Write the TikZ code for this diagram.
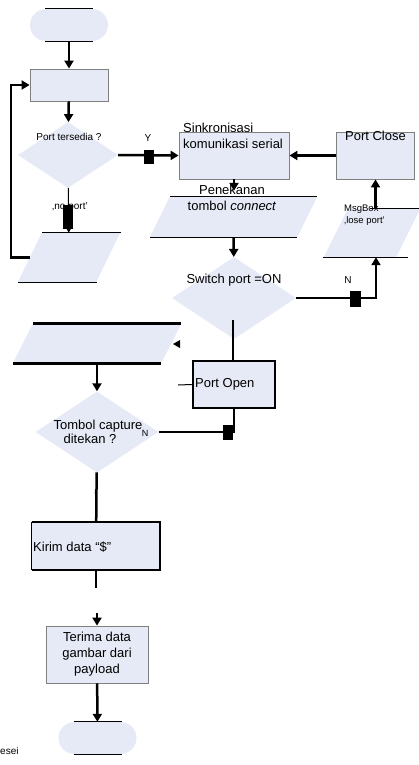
\documentclass[tikz,border=0pt]{standalone}
\usepackage{fontspec}
\setmainfont{Liberation Sans}
\usepackage{xcolor}
\usetikzlibrary{arrows.meta,positioning,calc,shapes.geometric}
\definecolor{lav}{HTML}{E6EAF6}
\tikzset{
  term/.style={rectangle, rounded corners=16pt, fill=lav, minimum width=78pt, minimum height=32pt, inner sep=0pt},
  proc/.style={rectangle, draw=gray, fill=lav, line width=0.8pt, inner sep=0pt},
  dia/.style={diamond, fill=lav, inner sep=0pt},
  para/.style={rectangle, inner sep=0pt},
  txt/.style={font=\fontsize{13}{16}\selectfont, inner sep=0pt},
  sml/.style={font=\fontsize{10}{12}\selectfont, inner sep=0pt},
  tny/.style={font=\fontsize{5}{6}\selectfont, text=gray!60, inner sep=0pt},
  fl/.style={line width=2.5pt, -{Triangle[length=8pt,width=9pt]}},
  ln/.style={line width=2.5pt},
  thinln/.style={line width=1pt},
  blok/.style={fill=black, minimum width=10pt, minimum height=14pt, inner sep=0pt},
}
% parallelogram fill on a para node: node, slant
\newcommand{\jajar}[2]{%
  \fill[lav] ($(#1.south west)+(-#2/2,0)$) -- ($(#1.south east)+(-#2/2,0)$)
    -- ($(#1.north east)+(#2/2,0)$) -- ($(#1.north west)+(#2/2,0)$) -- cycle;}
\begin{document}
\begin{tikzpicture}[x=1pt, y=-1pt]
\useasboundingbox (0,0) rectangle (419,765);
% shapes
\node[term] (start) at (69,25) {};
\node[proc, minimum width=78pt, minimum height=32pt] (inp) at (69,85) {};
\node[dia, minimum width=100pt, minimum height=66pt] (cekport) at (68,155) {};
\node[proc, minimum width=110pt, minimum height=47pt] (sinkron) at (234,155.5) {};
\node[proc, minimum width=78pt, minimum height=47pt] (close) at (375.5,155.5) {};
\node[para, minimum width=147pt, minimum height=40pt] (connect) at (233.5,217) {};
\node[para, minimum width=78pt, minimum height=49pt] (noport) at (69,257.5) {};
\node[para, minimum width=72pt, minimum height=48pt] (msgbox) at (372,233) {};
\node[dia, minimum width=124pt, minimum height=82pt] (switch) at (234,298) {};
\node[para, minimum width=148pt, minimum height=39pt] (tampil) at (97,343.5) {};
\node[proc, draw=black, line width=2.5pt, minimum width=82pt, minimum height=47pt] (open) at (234,384.5) {};
\node[dia, minimum width=123pt, minimum height=81pt] (capture) at (97,432) {};
\node[rectangle, fill=lav, minimum width=128pt, minimum height=48pt] (kirim) at (96,546) {};
\node[proc, minimum width=102pt, minimum height=57pt, txt, align=center] (terima) at (97,654.5) {Terima data\\gambar dari\\payload};
\node[term] (stop) at (97.5,738) {};
\jajar{connect}{20}
\jajar{noport}{24}
\jajar{msgbox}{24}
\jajar{tampil}{20}
% terminal and data edges
\draw[thinln] ($(start.north)+(-24,0)$) -- ($(start.north)+(24,0)$);
\draw[thinln] ($(start.south)+(-24,0)$) -- ($(start.south)+(24,0)$);
\draw[thinln] ($(stop.north)+(-24,0)$) -- ($(stop.north)+(24,0)$);
\draw[thinln] ($(stop.south)+(-24,0)$) -- ($(stop.south)+(24,0)$);
\draw[thinln] ($(noport.north west)+(12,0)$) -- ($(noport.north east)+(13,0)$);
\draw[thinln] ($(noport.south west)+(-12,0)$) -- ($(noport.south east)+(-11,0)$);
\draw[thinln] ($(connect.north west)+(10,0)$) -- ($(connect.north east)+(10,0)$);
\draw[thinln] ($(connect.south west)+(-10,0)$) -- ($(connect.south east)+(-10,0)$);
\draw[thinln] ($(msgbox.north west)+(34,0)$) -- ($(msgbox.north east)+(13,0)$);
\draw[thinln] ($(msgbox.south west)+(-13,0)$) -- ($(msgbox.south east)+(0,0)$);
\draw[line width=3pt] ($(tampil.north west)+(10,0)$) -- ($(tampil.north east)+(10,0)$);
\draw[line width=3pt] ($(tampil.south west)+(-10,0)$) -- ($(tampil.south east)+(-10,0)$);
\draw[line width=2.5pt] (kirim.north west) -- (kirim.north east) -- (kirim.south east) -- (kirim.south west);
\draw[thinln] (kirim.north west) -- (kirim.south west);
% texts
\node[sml] (tcek) at (69,137) {Port tersedia ?};
\node[txt, anchor=west, align=left] (tsink) at (183,136) {Sinkronisasi\\komunikasi serial};
\node[txt] (tclose) at (375.5,136) {Port Close};
\node[txt, align=center] (tconn) at (232,198) {Penekanan\\tombol \textit{connect}};
\node[sml, anchor=west, align=left, font=\fontsize{9.5}{12}\selectfont] (tmsg) at (344,215) {MsgBox\\‚lose port’};
\node[txt] (tswitch) at (234,280) {Switch port =ON};
\node[sml] (tnoport) at (70,207) {‚no port’};
\node[txt, anchor=west] (topen) at (195,384) {Port Open};
\node[txt] (tcap1) at (98,426) {Tombol capture};
\node[txt] (tcap2) at (90,439) {ditekan ?};
\node[txt, anchor=west] (tkirim) at (33,547) {Kirim data “\$”};
\node[sml, anchor=west] (tesei) at (0,751) {esei};
% yes / no labels
\node[sml] (ly1) at (148,138) {Y};
\node[sml] (ln1) at (348,280) {N};
\node[sml, font=\fontsize{9}{10}\selectfont] (ln2) at (145,433) {N};
\node[tny] (ly2) at (233,337) {Y};
\node[tny] (ly3) at (95,493) {Y};
% main flow
\draw[fl] (start) -- (inp);
\draw[fl] (inp) -- (cekport);
\draw[fl] (cekport.east) -- (sinkron.west);
\node[blok] (bY) at (149,156.5) {};
\draw[fl] (close) -- (sinkron);
\draw[fl, shorten >=6pt] (sinkron.south) -- (sinkron.south |- connect.north);
\draw[fl] (connect) -- (switch);
\draw[fl] (switch.east) -| ($(msgbox.south)+(4,0)$);
\node[blok, minimum width=11pt, minimum height=16pt] (bN) at (355,298.5) {};
\draw[fl] (msgbox.north -| close.south) -- (close.south);
% no port branch and loop back
\draw[thinln, -{Triangle[length=4pt,width=4pt]}] (cekport) -- (noport);
\node[blok, minimum height=24pt] (bport) at (68,217) {};
\draw[fl] (noport.west) -- ++(-19,0) |- (inp.west);
% port open part
\coordinate (ysw) at (233,320);
\draw[line width=1.8pt] (ysw) -- (ysw |- open.north);
\coordinate (openL) at (178,385);
\draw[thinln] (openL) -- (open.west);
\fill (180,340) -- (173,344) -- (180,348) -- cycle;
\draw[ln] (capture.east) -- (capture.east -| open.south) -- (open.south);
\node[blok, minimum height=15pt] (bC) at (228,432.5) {};
\draw[fl] (tampil) -- (capture);
\draw[ln] (capture) -- (kirim);
\coordinate (putus) at (96,588);
\draw[ln] (kirim) -- (putus);
\coordinate (sambung) at (97,613);
\draw[fl] (sambung) -- (terima);
\draw[fl] (terima) -- (stop);
\end{tikzpicture}
\end{document}
